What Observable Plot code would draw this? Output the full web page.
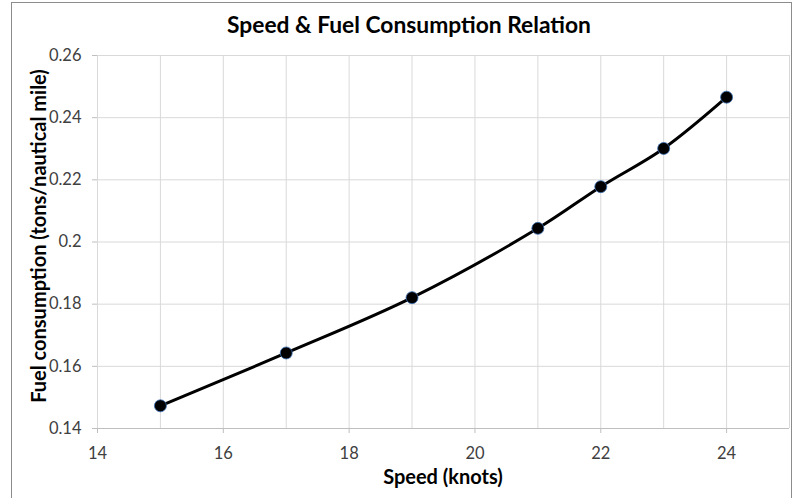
<!DOCTYPE html>
<html>
<head>
<meta charset="utf-8">
<script src="https://cdn.jsdelivr.net/npm/d3@7"></script>
<script src="https://cdn.jsdelivr.net/npm/@observablehq/plot@0.6"></script>
<style>
  html, body { margin: 0; padding: 0; background: #fff; }
  #wrap { position: relative; width: 794px; height: 498px; overflow: hidden; font-family: Lato, "Open Sans", sans-serif; }
  #frame { position: absolute; left: 11px; top: 2px; width: 781px; height: 520px; border-left: 1px solid #8c8c8c; border-top: 1px solid #8c8c8c; border-right: 1px solid #8c8c8c; box-sizing: border-box; }
  #title { position: absolute; left: 0; top: 10px; width: 818px; text-align: center; font-weight: bold; font-size: 22.8px; color: #000; }
  #ylabel { position: absolute; left: 38px; top: 236px; transform: translate(-50%, -50%) rotate(-90deg); white-space: nowrap; font-weight: bold; font-size: 20px; color: #000; }
  #xlabel { position: absolute; left: 443px; top: 464px; transform: translateX(-50%); white-space: nowrap; font-weight: bold; font-size: 20px; color: #000; }
  #chart { position: absolute; left: 0; top: 40px; }
</style>
</head>
<body>
<div id="wrap">
  <div id="frame"></div>
  <div id="title">Speed &amp; Fuel Consumption Relation</div>
  <div id="ylabel">Fuel consumption (tons/nautical mile)</div>
  <div id="xlabel">Speed (knots)</div>
  <div id="chart"></div>
</div>
<script>
const speeds = [15, 17, 19, 21, 22, 23, 24];
const fuel = [0.1473, 0.1643, 0.1821, 0.2044, 0.2178, 0.2301, 0.2466];
const xTicks = [14, 16, 18, 20, 22, 24];
const xGrid = [14, 15, 16, 17, 18, 19, 20, 21, 22, 23, 24, 25];
const yTicks = [0.14, 0.16, 0.18, 0.2, 0.22, 0.24, 0.26];
const yTickLabels = ["0.14", "0.16", "0.18", "0.2", "0.22", "0.24", "0.26"];

const data = speeds.map((s, i) => ({speed: s, fuel: fuel[i]}));
const fmtY = (d) => yTickLabels[yTicks.findIndex(t => Math.abs(t - d) < 1e-9)];

const chart = Plot.plot({
  width: 794,
  height: 458,
  marginLeft: 97,
  marginRight: 5,
  marginTop: 15,
  marginBottom: 70,
  style: {fontFamily: "Lato, 'Open Sans', sans-serif", fontSize: "16.5px", color: "#404040", background: "transparent"},
  x: {domain: [14, 25], label: null},
  y: {domain: [0.14, 0.26], label: null},
  marks: [
    Plot.ruleX(xGrid, {stroke: "#d9d9d9", strokeWidth: 1}),
    Plot.ruleY(yTicks, {stroke: "#d9d9d9", strokeWidth: 1}),
    Plot.ruleY([0.14], {stroke: "#bfbfbf", strokeWidth: 1}),
    Plot.axisX({ticks: xTicks, tickSize: 5, tickPadding: 14, stroke: "#bfbfbf", color: "#404040", label: null}),
    Plot.axisY({ticks: yTicks, tickSize: 5, tickPadding: 11, stroke: "#bfbfbf", color: "#404040", tickFormat: fmtY, label: null}),
    Plot.line(data, {x: "speed", y: "fuel", stroke: "#000", strokeWidth: 3, curve: "catmull-rom"}),
    Plot.dot(data, {x: "speed", y: "fuel", r: 6, fill: "#000", stroke: "#3a6fb5", strokeWidth: 0.8})
  ]
});
document.getElementById("chart").appendChild(chart);
</script>
</body>
</html>
